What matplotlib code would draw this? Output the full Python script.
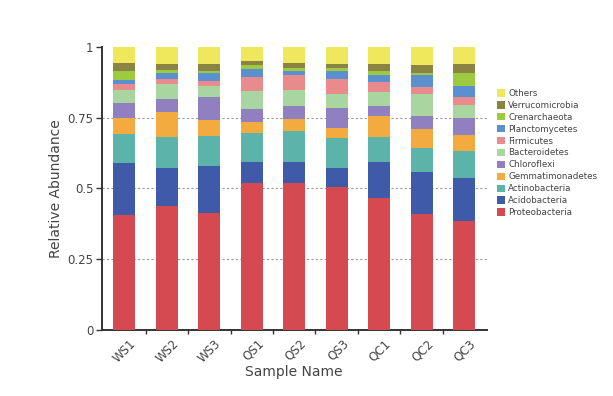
import numpy as np
import matplotlib.pyplot as plt
from matplotlib.ticker import FixedLocator, NullFormatter

# Muestras y taxones (de abajo hacia arriba)
muestras = ['WS1', 'WS2', 'WS3', 'QS1', 'QS2', 'QS3', 'QC1', 'QC2', 'QC3']
taxones = ['Proteobacteria', 'Acidobacteria', 'Actinobacteria', 'Gemmatimonadetes',
           'Chloroflexi', 'Bacteroidetes', 'Firmicutes', 'Planctomycetes',
           'Crenarchaeota', 'Verrucomicrobia', 'Others']

proteobacteria = [0.406, 0.439, 0.413, 0.518, 0.521, 0.506, 0.465, 0.410, 0.385]
acidobacteria = [0.183, 0.132, 0.167, 0.076, 0.073, 0.065, 0.129, 0.149, 0.151]
actinobacteria = [0.102, 0.112, 0.106, 0.102, 0.109, 0.109, 0.087, 0.085, 0.097]
gemmatimonadetes = [0.059, 0.086, 0.056, 0.039, 0.042, 0.035, 0.075, 0.066, 0.056]
chloroflexi = [0.051, 0.047, 0.080, 0.045, 0.048, 0.068, 0.037, 0.046, 0.059]
bacteroidetes = [0.049, 0.052, 0.040, 0.065, 0.055, 0.051, 0.049, 0.077, 0.047]
firmicutes = [0.018, 0.018, 0.019, 0.050, 0.053, 0.052, 0.035, 0.027, 0.027]
planctomycetes = [0.015, 0.021, 0.026, 0.027, 0.015, 0.029, 0.026, 0.043, 0.041]
crenarchaeota = [0.033, 0.012, 0.009, 0.014, 0.011, 0.012, 0.013, 0.007, 0.044]
verrucomicrobia = [0.029, 0.021, 0.024, 0.016, 0.018, 0.015, 0.024, 0.026, 0.033]
others = [0.055, 0.060, 0.060, 0.048, 0.055, 0.058, 0.060, 0.064, 0.060]

series = [proteobacteria, acidobacteria, actinobacteria, gemmatimonadetes,
          chloroflexi, bacteroidetes, firmicutes, planctomycetes,
          crenarchaeota, verrucomicrobia, others]

colores = ['#D44A50', '#3F5AA8', '#5CB3A9', '#F3AA3F', '#9080C0', '#A9D6A0',
           '#E98A8C', '#5A90CF', '#9CCB42', '#8A8342', '#EFE85C']

fig = plt.figure(figsize=(6.13, 3.96), dpi=100)
ax = fig.add_axes([0.166, 0.167, 0.628, 0.714])

x = np.arange(len(muestras))
base = np.zeros(len(muestras))
for nombre, valores, color in zip(taxones, series, colores):
    ax.bar(x, valores, bottom=base, width=0.52, color=color, label=nombre, zorder=3)
    base = base + np.array(valores)

ax.set_xlim(-0.53, 8.53)
ax.set_ylim(0, 1)
ax.set_yticks([0, 0.25, 0.5, 0.75, 1])
ax.set_yticklabels(['0', '0.25', '0.5', '0.75', '1'])
for yv in [0.25, 0.5, 0.75]:
    ax.axhline(yv, color='#999999', linestyle=(0, (2, 2)), linewidth=0.8, zorder=1)

ax.set_xticks(x + 0.12)
ax.set_xticklabels(muestras, rotation=45, ha='right', rotation_mode='anchor')
ax.tick_params(axis='x', length=0, pad=5)
ax.xaxis.set_minor_locator(FixedLocator(np.arange(0.5, 8.5, 1)))
ax.xaxis.set_minor_formatter(NullFormatter())
ax.tick_params(axis='x', which='minor', length=3, width=1, color='#333333')
ax.tick_params(axis='y', length=4, width=1, color='#333333', pad=2)
ax.tick_params(labelsize=8.5, labelcolor='#444444')

for lado in ['top', 'right']:
    ax.spines[lado].set_visible(False)
for lado in ['left', 'bottom']:
    ax.spines[lado].set_linewidth(1.4)
    ax.spines[lado].set_color('#333333')

ax.set_xlabel('Sample Name', fontsize=10, color='#444444', labelpad=0)
ax.set_ylabel('Relative Abundance', fontsize=10, color='#444444', labelpad=3)

handles, labels = ax.get_legend_handles_labels()
ax.legend(handles[::-1], labels[::-1], loc='upper left', bbox_to_anchor=(0.798, 0.795),
          bbox_transform=fig.transFigure, frameon=False, fontsize=6.3,
          handlelength=0.9, handleheight=0.9, handletextpad=0.4, labelspacing=0.33,
          labelcolor='#444444')

plt.savefig('out.png', dpi=100)
